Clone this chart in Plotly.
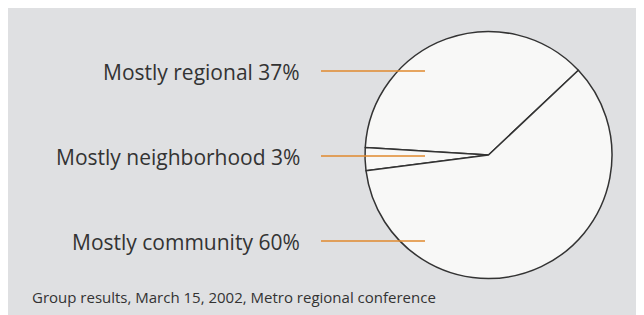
import plotly.graph_objects as go

categories = ["Mostly regional", "Mostly neighborhood", "Mostly community"]
values = [37, 3, 60]
footer = "Group results, March 15, 2002, Metro regional conference"

# page has an 8px body margin; figure covers the rest of the 644x315 window
OFF = 8
W, H = 644 - OFF, 315 - OFF
def px(x):
    return (x - OFF) / W
def py(y):
    return 1 - (y - OFF) / H

# regional slice ends (counterclockwise) at ~43 deg above the 3 o'clock line
first_angle = 360 * values[0] / sum(values)
rotation = 46.7 - first_angle

fig = go.Figure()
fig.add_trace(go.Pie(
    labels=categories,
    values=values,
    sort=False,
    direction="counterclockwise",
    rotation=rotation,
    textinfo="none",
    hoverinfo="label+percent",
    marker=dict(colors=["#f8f8f7"] * 3, line=dict(color="#333333", width=1.5)),
    domain=dict(x=[px(365), px(612)], y=[py(278.5), py(31.5)]),
    showlegend=False,
))

label_y = [72, 157, 242]
annotations = []
shapes = []
for cat, v, y in zip(categories, values, label_y):
    annotations.append(dict(
        text=f"{cat} {v}%", xref="paper", yref="paper", x=px(302), y=py(y),
        xanchor="right", yanchor="middle", showarrow=False,
        font=dict(family="Open Sans", size=21, color="#333333"),
    ))
    shapes.append(dict(type="line", xref="paper", yref="paper",
                       x0=px(321), x1=px(425), y0=py(y - 1), y1=py(y - 1),
                       line=dict(color="#e08a2e", width=1.5), layer="above"))

annotations.append(dict(
    text=footer, xref="paper", yref="paper", x=px(30), y=py(297),
    xanchor="left", yanchor="middle", showarrow=False,
    font=dict(family="Open Sans", size=15, color="#333333"),
))

fig.update_layout(
    width=W, height=H,
    margin=dict(l=0, r=0, t=0, b=0),
    paper_bgcolor="#dfe0e2",
    plot_bgcolor="#dfe0e2",
    annotations=annotations,
    shapes=shapes,
)
fig.write_html("out.html")
